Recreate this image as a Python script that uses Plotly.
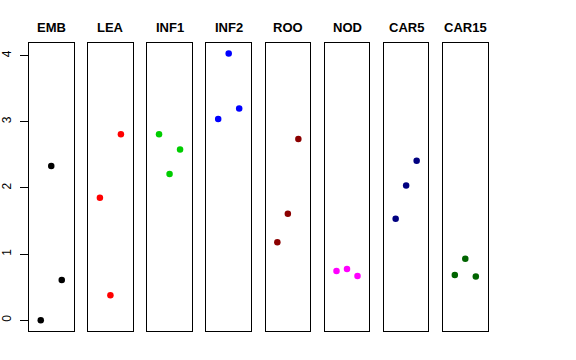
import plotly.graph_objects as go

groups = ["EMB", "LEA", "INF1", "INF2", "ROO", "NOD", "CAR5", "CAR15"]
colors = ["#000000", "#FF0000", "#00CD00", "#0000FF", "#8B0000", "#FF00FF", "#000080", "#006400"]
emb = [0.00, 2.33, 0.61]
lea = [1.85, 0.38, 2.81]
inf1 = [2.81, 2.21, 2.58]
inf2 = [3.04, 4.03, 3.20]
roo = [1.18, 1.61, 2.74]
nod = [0.745, 0.775, 0.67]
car5 = [1.535, 2.035, 2.41]
car15 = [0.685, 0.93, 0.66]
values = [emb, lea, inf1, inf2, roo, nod, car5, car15]
positions = [1, 2, 3]
y_ticks = [0, 1, 2, 3, 4]

W, H = 576, 360
fig = go.Figure()
left0, step, pw = 29.0, 59.15, 44.5
top, bottom = 43.0, 331.0

for i, (g, c, v) in enumerate(zip(groups, colors, values)):
    n = i + 1
    xa = "x" if n == 1 else f"x{n}"
    ya = "y" if n == 1 else f"y{n}"
    fig.add_trace(go.Scatter(x=positions, y=v, mode="markers",
                             marker=dict(color=c, size=6.5, line=dict(width=0)),
                             xaxis=xa, yaxis=ya, showlegend=False))
    l = left0 + i * step
    r = l + pw
    xk = "xaxis" if n == 1 else f"xaxis{n}"
    yk = "yaxis" if n == 1 else f"yaxis{n}"
    fig.layout[xk] = dict(domain=[l / W, r / W], range=[-0.12, 4.12],
                          showgrid=False, zeroline=False, showticklabels=False,
                          ticks="", showline=True, mirror=True, linecolor="black",
                          linewidth=1, anchor=ya, fixedrange=True, automargin=False)
    ydict = dict(domain=[1 - bottom / H, 1 - top / H], range=[-0.162, 4.19],
                 showgrid=False, zeroline=False, showline=True, mirror=True,
                 linecolor="black", linewidth=1, anchor=xa, fixedrange=True,
                 automargin=False)
    if n == 1:
        ydict.update(tickvals=y_ticks, ticktext=[str(t) for t in y_ticks],
                     ticks="outside", ticklen=8, tickcolor="black", tickwidth=1,
                     tickangle=-90, ticklabelstandoff=4,
                     tickfont=dict(size=12, color="black",
                                   family="Liberation Sans, Arial, sans-serif"))
    else:
        ydict.update(showticklabels=False, ticks="")
    fig.layout[yk] = ydict
    fig.add_annotation(text=f"<b>{g}</b>", x=(l + r) / 2 / W, y=1 - 28 / H,
                       xref="paper", yref="paper", showarrow=False,
                       xanchor="center", yanchor="middle",
                       font=dict(size=13, color="black",
                                 family="Liberation Sans, Arial, sans-serif"))

fig.update_layout(width=W, height=H, margin=dict(l=0, r=0, t=0, b=0, autoexpand=False),
                  paper_bgcolor="white", plot_bgcolor="white",
                  font=dict(family="Liberation Sans, Arial, sans-serif"))
fig.write_html("out.html", config={"displayModeBar": False},
               post_script="document.body.style.margin='0px';")
